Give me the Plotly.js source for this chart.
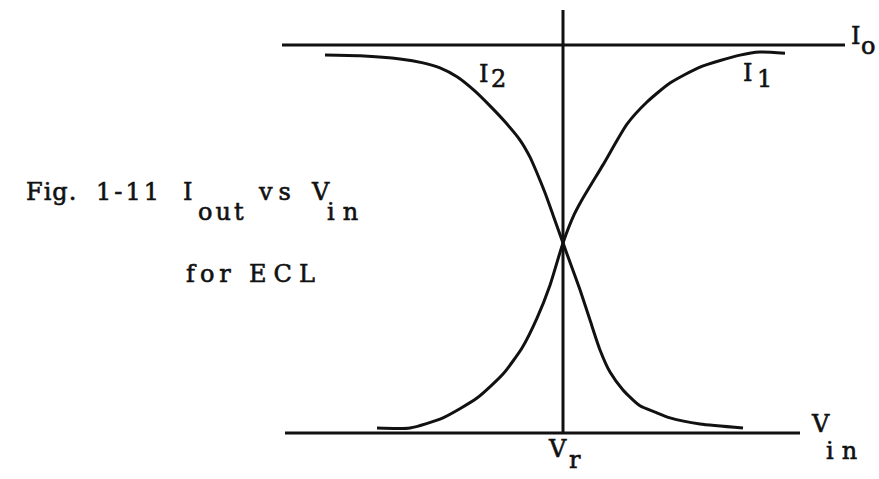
<!DOCTYPE html>
<html>
<head>
<meta charset="utf-8">
<script src="https://cdn.plot.ly/plotly-3.0.1.min.js"></script>
<style>
html,body{margin:0;padding:0;background:#ffffff;}
#chart{width:879px;height:479px;}
.annotation-text{stroke:#111111;stroke-width:0.6px;}
</style>
</head>
<body>
<div id="chart"></div>
<script>
// Input voltage relative to V_r (arbitrary units) and output current as a fraction of I_o
const vinI1 = [-1.86,-1.53,-1.20,-0.86,-0.60,-0.41,-0.26,-0.13,0.00,0.11,0.19,0.40,0.64,0.84,1.07,1.37,1.77,1.97,2.22];
const curI1 = [0.013,0.013,0.039,0.090,0.152,0.219,0.296,0.381,0.490,0.562,0.601,0.691,0.796,0.853,0.902,0.943,0.974,0.982,0.979];

const vinI2 = [-2.38,-2.03,-1.63,-1.40,-1.23,-1.06,-0.88,-0.73,-0.58,-0.43,-0.33,-0.26,-0.18,-0.10,0.00,0.08,0.17,0.27,0.37,0.47,0.60,0.77,0.92,1.07,1.37,1.80];
const curI2 = [0.974,0.972,0.964,0.954,0.941,0.918,0.881,0.843,0.802,0.755,0.711,0.670,0.619,0.562,0.490,0.433,0.369,0.291,0.214,0.157,0.111,0.070,0.054,0.039,0.023,0.013];

const vRef = 0;      // V_r
const iO = 1;        // I_o level
const iZero = 0;     // V_in axis level

const W = 879, H = 479;
const px = x => x / W;
const py = y => 1 - y / H;

const ink = '#111111';
const lineW = 3;

const traces = [
  {x: vinI1, y: curI1, mode: 'lines', line: {color: ink, width: lineW, shape: 'spline', smoothing: 0.6}, hoverinfo: 'skip', name: 'I1'},
  {x: vinI2, y: curI2, mode: 'lines', line: {color: ink, width: lineW, shape: 'spline', smoothing: 0.6}, hoverinfo: 'skip', name: 'I2'}
];

const shapes = [
  {type: 'line', xref: 'x', yref: 'y', x0: -2.81, x1: 2.82, y0: iO, y1: iO, line: {color: ink, width: lineW}},
  {type: 'line', xref: 'x', yref: 'y', x0: -2.78, x1: 2.37, y0: iZero, y1: iZero, line: {color: ink, width: lineW}},
  {type: 'line', xref: 'x', yref: 'y', x0: vRef, x1: vRef, y0: iZero, y1: 1.09, line: {color: ink, width: lineW}}
];

// [text, left px, baseline px, letter-spacing px]
const labels = [
  ['Fig.', 25, 201, 1],
  ['1-11', 95, 201, 3],
  ['I', 182, 201, 0],
  ['out', 197, 221, 3],
  ['vs', 257, 201, 6],
  ['V', 310, 201, 0],
  ['in', 326, 221, 8],
  ['for', 185, 283, 5],
  ['ECL', 248, 283, 7],
  ['I', 850, 45, 0],
  ['o', 860, 55, 0],
  ['I', 478, 83, 0],
  ['2', 490, 88, 0],
  ['I', 742, 82, 0],
  ['1', 756, 88, 0],
  ['V', 810, 433, 0],
  ['in', 825, 460, 8],
  ['V', 547, 458, 0],
  ['r', 568, 469, 0]
];

const fontSize = 24;
const annotations = labels.map(l => ({
  text: l[0], xref: 'paper', yref: 'paper',
  x: px(l[1]), y: py(l[2] + 6),
  xanchor: 'left', yanchor: 'bottom', align: 'left',
  showarrow: false, borderpad: 0,
  font: {family: 'DejaVu Serif', size: fontSize, color: ink}
}));

const layout = {
  width: W, height: H,
  margin: {l: 0, r: 0, t: 0, b: 0, pad: 0},
  paper_bgcolor: '#ffffff', plot_bgcolor: '#ffffff',
  showlegend: false,
  xaxis: {range: [-5.63, 3.16], visible: false, fixedrange: true},
  yaxis: {range: [-0.1186, 1.116], visible: false, fixedrange: true},
  shapes: shapes,
  annotations: annotations
};

Plotly.newPlot('chart', traces, layout, {staticPlot: true, displayModeBar: false}).then(() => {
  labels.forEach((l, i) => {
    const t = document.querySelector('.annotation[data-index="' + i + '"] .annotation-text');
    if (t && l[3]) t.style.letterSpacing = l[3] + 'px';
  });
});
</script>
</body>
</html>
